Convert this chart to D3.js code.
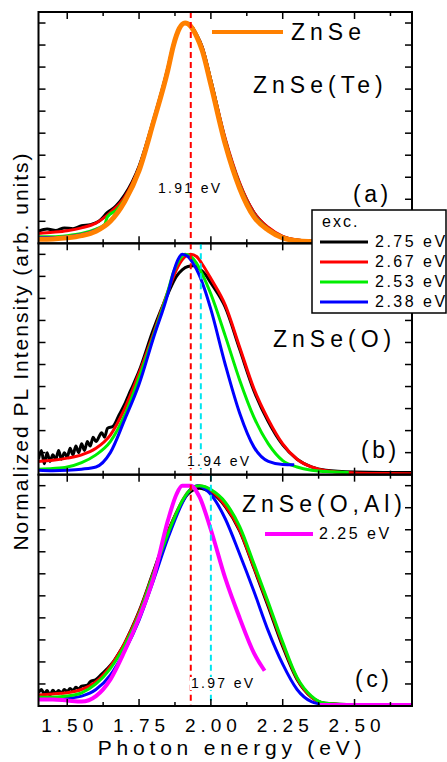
<!DOCTYPE html>
<html>
<head>
<meta charset="utf-8">
<script src="https://cdn.jsdelivr.net/npm/d3@7"></script>
<style>
  body { margin: 0; background: #fff; }
  text { font-family: "Liberation Sans", Arial, sans-serif; fill: #000; }
</style>
</head>
<body>
<div id="vis"></div>
<script>
////////// data //////////
var xDomain = [1.40, 2.70];
var xMajorTicks = [1.50, 1.75, 2.00, 2.25, 2.50];
var xMinorTicks = [1.625, 1.875, 2.125, 2.375, 2.625];
var yTicks = [0.1, 0.2, 0.3, 0.4, 0.5, 0.6, 0.7, 0.8, 0.9, 1.0];

var excLabels = ["2.75 eV", "2.67 eV", "2.53 eV", "2.38 eV"];
var excColors = ["#000000", "#ff0000", "#00ee00", "#0000ff"];
var panelNames = ["ZnSe(Te)", "ZnSe(O)", "ZnSe(O,Al)"];
var panelTags = ["(a)", "(b)", "(c)"];
var peakLabels = ["1.91 eV", "1.94 eV", "1.97 eV"];
var redMark = 1.93;                 // red dashed line, all panels
var cyanMarks = [null, 1.965, 2.00]; // cyan dashed line per panel

// panel (a) ZnSe(Te)
var aBlack = [[1.40,.055],[1.43,.065],[1.46,.058],[1.49,.07],[1.52,.066],[1.55,.08],[1.58,.085],[1.61,.10],[1.64,.14],[1.67,.17],[1.70,.22],[1.75,.35],[1.80,.56],[1.85,.795],[1.87,.905],[1.89,.977],[1.91,1.0],[1.93,.988],[1.95,.948],[1.97,.89],[2.00,.74],[2.05,.47],[2.10,.27],[2.15,.14],[2.20,.07],[2.25,.03],[2.30,.015],[2.40,.008],[2.50,.005]];
var aRed = [[1.40,.045],[1.45,.05],[1.50,.057],[1.55,.07],[1.60,.092],[1.65,.14],[1.70,.21],[1.75,.345],[1.80,.555],[1.85,.792],[1.87,.903],[1.89,.976],[1.91,1.0],[1.93,.988],[1.95,.948],[1.97,.89],[2.00,.74],[2.05,.475],[2.10,.275],[2.15,.14],[2.20,.072],[2.25,.032],[2.30,.015],[2.40,.008],[2.50,.005]];
var aGreen = [[1.40,.03],[1.45,.03],[1.50,.035],[1.55,.045],[1.60,.065],[1.63,.085],[1.64,.12],[1.67,.15],[1.70,.20],[1.75,.34],[1.80,.55],[1.85,.79],[1.87,.902],[1.89,.976],[1.91,1.0],[1.93,.987],[1.95,.946],[1.97,.886],[2.00,.735],[2.05,.465],[2.10,.265],[2.15,.13],[2.20,.065],[2.25,.028],[2.30,.013],[2.40,.006],[2.50,.004]];
var aBlue = [[1.40,.025],[1.45,.025],[1.50,.03],[1.55,.04],[1.60,.06],[1.65,.10],[1.70,.19],[1.75,.335],[1.80,.55],[1.85,.788],[1.87,.90],[1.89,.975],[1.91,1.0],[1.93,.987],[1.95,.945],[1.97,.884],[2.00,.73],[2.05,.46],[2.10,.26],[2.15,.128],[2.20,.062],[2.25,.026],[2.30,.012],[2.40,.005],[2.50,.003]];
var aOrange = [[1.40,.018],[1.45,.02],[1.50,.025],[1.55,.035],[1.60,.055],[1.65,.10],[1.70,.19],[1.75,.33],[1.80,.55],[1.85,.785],[1.87,.90],[1.89,.975],[1.91,1.0],[1.93,.985],[1.95,.94],[1.97,.875],[2.00,.72],[2.05,.45],[2.10,.25],[2.15,.12],[2.20,.06],[2.25,.025],[2.30,.012],[2.40,.005],[2.50,.003]];

// panel (b) ZnSe(O)
var bBlack = [[1.40,.07],[1.41,.11],[1.42,.05],[1.43,.10],[1.44,.06],[1.45,.09],[1.46,.07],[1.47,.11],[1.48,.07],[1.49,.10],[1.50,.08],[1.51,.12],[1.52,.09],[1.53,.13],[1.54,.10],[1.55,.14],[1.56,.11],[1.57,.15],[1.58,.13],[1.59,.17],[1.60,.15],[1.62,.19],[1.63,.17],[1.64,.21],[1.66,.22],[1.68,.27],[1.70,.32],[1.72,.38],[1.75,.47],[1.80,.66],[1.85,.82],[1.88,.90],[1.90,.93],[1.92,.945],[1.94,.948],[1.96,.935],[1.98,.91],[2.00,.87],[2.05,.76],[2.10,.57],[2.15,.38],[2.20,.24],[2.25,.135],[2.30,.07],[2.35,.035],[2.40,.02],[2.50,.012],[2.60,.01],[2.70,.01]];
var bRed = [[1.40,.06],[1.45,.065],[1.50,.075],[1.55,.09],[1.60,.12],[1.65,.18],[1.70,.30],[1.75,.46],[1.80,.64],[1.85,.83],[1.88,.93],[1.90,.975],[1.93,1.0],[1.95,.99],[1.97,.955],[2.00,.89],[2.05,.77],[2.10,.58],[2.15,.39],[2.20,.25],[2.25,.14],[2.30,.07],[2.35,.035],[2.40,.018],[2.50,.008],[2.60,.005],[2.70,.004]];
var bGreen = [[1.40,.025],[1.45,.028],[1.50,.035],[1.55,.055],[1.60,.09],[1.65,.15],[1.70,.27],[1.75,.44],[1.80,.63],[1.85,.83],[1.87,.92],[1.89,.975],[1.91,1.0],[1.93,.99],[1.95,.96],[1.97,.91],[2.00,.82],[2.05,.63],[2.10,.43],[2.15,.26],[2.20,.14],[2.25,.064],[2.30,.035],[2.35,.02],[2.40,.014],[2.48,.01]];
var bBlue = [[1.40,.02],[1.45,.018],[1.50,.02],[1.55,.025],[1.60,.035],[1.65,.10],[1.70,.25],[1.75,.41],[1.80,.62],[1.85,.82],[1.87,.92],[1.885,.975],[1.90,1.0],[1.92,.99],[1.94,.955],[1.96,.905],[1.98,.835],[2.00,.75],[2.05,.50],[2.10,.28],[2.15,.125],[2.20,.06],[2.25,.046],[2.29,.045]];

// panel (c) ZnSe(O,Al)
var cBlack = [[1.40,.06],[1.41,.075],[1.42,.055],[1.43,.07],[1.44,.05],[1.45,.072],[1.46,.058],[1.47,.07],[1.48,.06],[1.49,.075],[1.50,.065],[1.51,.08],[1.52,.07],[1.53,.085],[1.54,.078],[1.55,.09],[1.57,.095],[1.58,.11],[1.60,.12],[1.62,.145],[1.64,.17],[1.66,.20],[1.68,.24],[1.70,.285],[1.72,.34],[1.75,.43],[1.80,.61],[1.85,.79],[1.90,.925],[1.92,.962],[1.94,.982],[1.96,.988],[1.98,.982],[2.00,.97],[2.05,.905],[2.10,.795],[2.15,.625],[2.20,.45],[2.25,.27],[2.30,.12],[2.35,.04],[2.40,.012],[2.50,.006],[2.70,.005]];
var cRed = [[1.40,.05],[1.45,.055],[1.50,.06],[1.55,.075],[1.60,.11],[1.65,.18],[1.70,.285],[1.75,.425],[1.80,.605],[1.85,.785],[1.90,.93],[1.92,.97],[1.94,.993],[1.96,1.0],[1.98,.993],[2.00,.978],[2.05,.91],[2.10,.80],[2.15,.63],[2.20,.46],[2.25,.28],[2.30,.125],[2.35,.04],[2.40,.01],[2.50,.005],[2.70,.004]];
var cGreen = [[1.40,.04],[1.45,.04],[1.50,.045],[1.55,.06],[1.60,.10],[1.65,.17],[1.70,.275],[1.75,.415],[1.80,.60],[1.85,.78],[1.90,.93],[1.92,.97],[1.94,.993],[1.96,1.0],[1.98,.995],[2.00,.982],[2.05,.925],[2.10,.815],[2.15,.645],[2.20,.47],[2.25,.29],[2.30,.13],[2.35,.045],[2.40,.012],[2.50,.005]];
var cBlue = [[1.40,.03],[1.45,.03],[1.50,.035],[1.55,.045],[1.60,.075],[1.65,.14],[1.70,.25],[1.75,.39],[1.80,.57],[1.85,.76],[1.90,.92],[1.93,.985],[1.955,1.0],[1.98,.985],[2.00,.96],[2.05,.85],[2.10,.69],[2.15,.52],[2.20,.34],[2.25,.19],[2.30,.075],[2.35,.02],[2.40,.006]];
var cMagenta = [[1.40,.03],[1.45,.03],[1.50,.025],[1.55,.02],[1.60,.045],[1.65,.12],[1.70,.25],[1.75,.40],[1.80,.58],[1.85,.84],[1.88,.96],[1.90,1.0],[1.93,1.0],[1.96,.95],[2.00,.80],[2.05,.58],[2.10,.40],[2.15,.24],[2.187,.16],null,[2.38,.004],[2.70,.004]];

var panels = [
  { series: [[aBlack, 0], [aRed, 1], [aGreen, 2], [aBlue, 3], [aOrange, "#ff8000", 5]] },
  { series: [[bBlack, 0], [bRed, 1], [bGreen, 2], [bBlue, 3]] },
  { series: [[cBlack, 0], [cRed, 1], [cBlue, 3], [cGreen, 2], [cMagenta, "#ff00ff", 4]] }
];

////////// layout //////////
var W = 447, H = 762;
var margin = { top: 12, left: 38.5, right: 412, bottom: 706 };
var panelH = (margin.bottom - margin.top) / 3;

var svg = d3.select("#vis").append("svg")
  .attr("width", W).attr("height", H);

var x = d3.scaleLinear().domain(xDomain).range([margin.left, margin.right]);

var line = d3.line()
  .defined(function (d) { return d != null; })
  .curve(d3.curveMonotoneX);

panels.forEach(function (p, i) {
  var top = margin.top + i * panelH, bot = top + panelH;
  var y = d3.scaleLinear().domain([0, 1.05]).range([bot, top]);
  var g = svg.append("g");

  g.append("clipPath").attr("id", "clip" + i)
    .append("rect")
    .attr("x", margin.left).attr("y", top)
    .attr("width", margin.right - margin.left).attr("height", panelH);

  var plot = g.append("g").attr("clip-path", "url(#clip" + i + ")");

  line.x(function (d) { return x(d[0]); }).y(function (d) { return y(d[1]); });

  p.series.forEach(function (s) {
    var col = typeof s[1] === "number" ? excColors[s[1]] : s[1];
    var w = s[2] || 3;
    plot.append("path")
      .attr("d", line(s[0]))
      .attr("fill", "none")
      .attr("stroke", col)
      .attr("stroke-width", w)
      .attr("stroke-linejoin", "round");
  });

  // dashed markers
  plot.append("line")
    .attr("x1", x(redMark)).attr("x2", x(redMark))
    .attr("y1", top).attr("y2", bot)
    .attr("stroke", "#ff0000").attr("stroke-width", 2)
    .attr("stroke-dasharray", "6,4");
  if (cyanMarks[i] != null) {
    plot.append("line")
      .attr("x1", x(cyanMarks[i])).attr("x2", x(cyanMarks[i]))
      .attr("y1", top).attr("y2", bot)
      .attr("stroke", "#00e5ee").attr("stroke-width", 2)
      .attr("stroke-dasharray", "6,4");
  }

  // ticks: y both sides, x top and bottom, all inward
  yTicks.forEach(function (t) {
    g.append("line").attr("x1", margin.left).attr("x2", margin.left + 7)
      .attr("y1", y(t)).attr("y2", y(t)).attr("stroke", "#000").attr("stroke-width", 1.5);
    g.append("line").attr("x1", margin.right).attr("x2", margin.right - 7)
      .attr("y1", y(t)).attr("y2", y(t)).attr("stroke", "#000").attr("stroke-width", 1.5);
  });
  xMajorTicks.concat(xMinorTicks).forEach(function (t, k) {
    var len = k < xMajorTicks.length ? 7 : 4;
    g.append("line").attr("x1", x(t)).attr("x2", x(t))
      .attr("y1", bot).attr("y2", bot - len).attr("stroke", "#000").attr("stroke-width", 1.5);
    g.append("line").attr("x1", x(t)).attr("x2", x(t))
      .attr("y1", top).attr("y2", top + len).attr("stroke", "#000").attr("stroke-width", 1.5);
  });

  g.append("rect")
    .attr("x", margin.left).attr("y", top)
    .attr("width", margin.right - margin.left).attr("height", panelH)
    .attr("fill", "none").attr("stroke", "#000").attr("stroke-width", 2);
});

////////// texts //////////
function label(txt, px, py, size, ls) {
  return svg.append("text").attr("x", px).attr("y", py)
    .style("font-size", size + "px").style("letter-spacing", ls + "px").text(txt);
}

// sample names and panel tags
label(panelNames[0], 253, 93, 23, 5);
label(panelNames[1], 273, 347, 23, 5);
label(panelNames[2], 242, 512, 23, 5);
label(panelTags[0], 353, 202, 23, 3.5);
label(panelTags[1], 361, 458, 23, 3.5);
label(panelTags[2], 355, 687, 23, 3.5);

// peak labels (b and c sit on white)
var peakPos = [[158, 193], [187, 466], [191, 688]];
peakLabels.forEach(function (t, i) {
  var el = label(t, peakPos[i][0], peakPos[i][1], 14, 2.3);
  if (i > 0) {
    var bb = el.node().getBBox();
    svg.insert("rect", function () { return el.node(); })
      .attr("x", bb.x - 1).attr("y", bb.y + 2)
      .attr("width", bb.width).attr("height", bb.height - 3)
      .attr("fill", "#fff");
  }
});

// ZnSe legend in (a)
svg.append("line").attr("x1", 212).attr("x2", 283).attr("y1", 32).attr("y2", 32)
  .attr("stroke", "#ff8000").attr("stroke-width", 4);
label("ZnSe", 291, 40, 23, 5);

// 2.25 eV legend in (c)
svg.append("line").attr("x1", 265).attr("x2", 313).attr("y1", 534).attr("y2", 534)
  .attr("stroke", "#ff00ff").attr("stroke-width", 4);
label("2.25 eV", 319, 539, 16, 2.5);

// excitation legend box
var lg = svg.append("g");
lg.append("rect").attr("x", 312).attr("y", 210).attr("width", 134).attr("height", 103)
  .attr("fill", "#fff").attr("stroke", "#000").attr("stroke-width", 1.5);
label("exc.", 322, 227, 16, 2);
excLabels.forEach(function (t, i) {
  var yy = 242 + i * 20;
  lg.append("line").attr("x1", 320).attr("x2", 368).attr("y1", yy).attr("y2", yy)
    .attr("stroke", excColors[i]).attr("stroke-width", 3);
  label(t, 375, yy + 5, 16, 2.5);
});

// x tick labels
xMajorTicks.forEach(function (t) {
  label(d3.format(".2f")(t), x(t) + 2.5, 732, 19, 5).attr("text-anchor", "middle");
});

// axis titles
label("Photon energy (eV)", 232, 755, 21, 4.8).attr("text-anchor", "middle");
label("Normalized PL Intensity (arb. units)", 0, 0, 21, 2)
  .attr("text-anchor", "middle")
  .attr("transform", "translate(28,351) rotate(-90)");
</script>
</body>
</html>
